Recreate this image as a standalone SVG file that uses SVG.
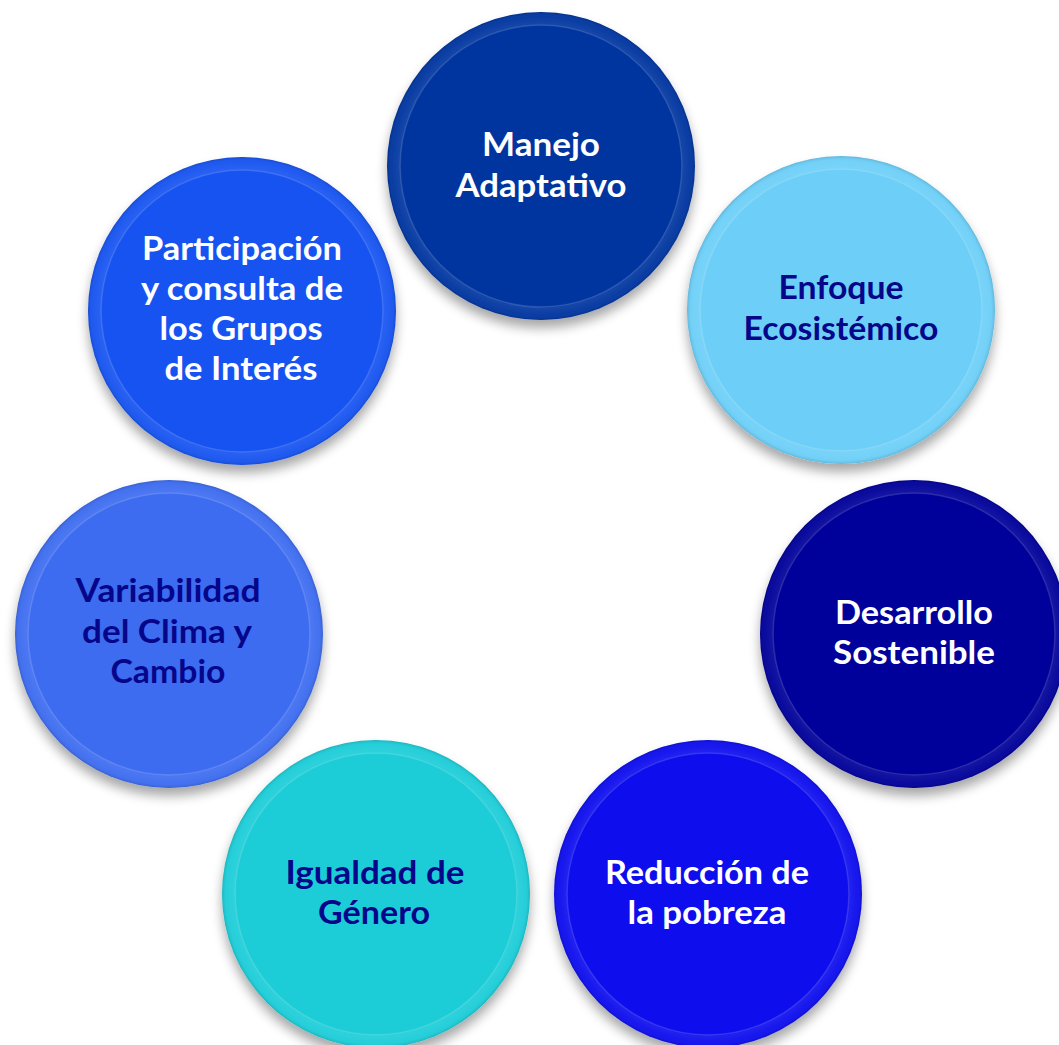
<svg xmlns="http://www.w3.org/2000/svg" width="1059" height="1045" viewBox="0 0 1059 1045">
  <style>
    .lbl { font-family: Lato, "Liberation Sans", sans-serif; font-weight: 700; font-size: 32px; text-anchor: middle; }
    .w { fill: #ffffff; }
    .n { fill: #06068a; }
    .rim { fill: url(#rimGrad); }
    .bevel { fill: none; stroke: #ffffff; stroke-opacity: 0.14; stroke-width: 1.5; }
  </style>
  <defs>
    <filter id="shadow" x="-20%" y="-20%" width="140%" height="145%">
      <feGaussianBlur in="SourceAlpha" stdDeviation="6"/>
      <feOffset dx="0" dy="8" result="b"/>
      <feComponentTransfer><feFuncA type="linear" slope="0.35"/></feComponentTransfer>
      <feMerge><feMergeNode/><feMergeNode in="SourceGraphic"/></feMerge>
    </filter>
    <radialGradient id="rimGrad" cx="0.5" cy="0.5" r="0.5">
      <stop offset="0" stop-color="#ffffff" stop-opacity="0"/>
      <stop offset="0.905" stop-color="#ffffff" stop-opacity="0"/>
      <stop offset="0.925" stop-color="#ffffff" stop-opacity="0.08"/>
      <stop offset="0.97" stop-color="#ffffff" stop-opacity="0.04"/>
      <stop offset="1" stop-color="#000000" stop-opacity="0.12"/>
    </radialGradient>
  </defs>
  <rect width="1059" height="1045" fill="#ffffff"/>
  <g id="connectors"/>

  <g id="node-manejo">
    <circle cx="541" cy="166" r="154" fill="#0336a0" filter="url(#shadow)"/>
    <circle cx="541" cy="166" r="154" class="rim"/>
    <circle cx="541" cy="166" r="141" class="bevel"/>
    <text class="lbl w" x="541" y="156" textLength="118" lengthAdjust="spacingAndGlyphs">Manejo</text>
    <text class="lbl w" x="541" y="197" textLength="171" lengthAdjust="spacingAndGlyphs">Adaptativo</text>
  </g>

  <g id="node-enfoque">
    <circle cx="841" cy="310" r="154" fill="#6dcff8" filter="url(#shadow)"/>
    <circle cx="841" cy="310" r="154" class="rim"/>
    <circle cx="841" cy="310" r="141" class="bevel"/>
    <text class="lbl n" x="841" y="299" textLength="125" lengthAdjust="spacingAndGlyphs">Enfoque</text>
    <text class="lbl n" x="841" y="340" textLength="195" lengthAdjust="spacingAndGlyphs">Ecosistémico</text>
  </g>

  <g id="node-desarrollo">
    <circle cx="914" cy="634" r="154" fill="#04049a" filter="url(#shadow)"/>
    <circle cx="914" cy="634" r="154" class="rim"/>
    <circle cx="914" cy="634" r="141" class="bevel"/>
    <text class="lbl w" x="914" y="624" textLength="158" lengthAdjust="spacingAndGlyphs">Desarrollo</text>
    <text class="lbl w" x="914" y="664" textLength="162" lengthAdjust="spacingAndGlyphs">Sostenible</text>
  </g>

  <g id="node-reduccion">
    <circle cx="708" cy="894" r="154" fill="#0a0aee" filter="url(#shadow)"/>
    <circle cx="708" cy="894" r="154" class="rim"/>
    <circle cx="708" cy="894" r="141" class="bevel"/>
    <text class="lbl w" x="707" y="884" textLength="204" lengthAdjust="spacingAndGlyphs">Reducción de</text>
    <text class="lbl w" x="707" y="924" textLength="159" lengthAdjust="spacingAndGlyphs">la pobreza</text>
  </g>

  <g id="node-igualdad">
    <circle cx="376" cy="894" r="154" fill="#1ccdd8" filter="url(#shadow)"/>
    <circle cx="376" cy="894" r="154" class="rim"/>
    <circle cx="376" cy="894" r="141" class="bevel"/>
    <text class="lbl n" x="375" y="884" textLength="179" lengthAdjust="spacingAndGlyphs">Igualdad de</text>
    <text class="lbl n" x="374" y="924" textLength="112" lengthAdjust="spacingAndGlyphs">Género</text>
  </g>

  <g id="node-variabilidad">
    <circle cx="169" cy="634" r="154" fill="#3c6cf0" filter="url(#shadow)"/>
    <circle cx="169" cy="634" r="154" class="rim"/>
    <circle cx="169" cy="634" r="141" class="bevel"/>
    <text class="lbl n" x="168" y="602" textLength="185" lengthAdjust="spacingAndGlyphs">Variabilidad</text>
    <text class="lbl n" x="167" y="643" textLength="170" lengthAdjust="spacingAndGlyphs">del Clima y</text>
    <text class="lbl n" x="168" y="683" textLength="115" lengthAdjust="spacingAndGlyphs">Cambio</text>
  </g>

  <g id="node-participacion">
    <circle cx="242" cy="311" r="154" fill="#1452f0" filter="url(#shadow)"/>
    <circle cx="242" cy="311" r="154" class="rim"/>
    <circle cx="242" cy="311" r="141" class="bevel"/>
    <text class="lbl w" x="242" y="260" textLength="200" lengthAdjust="spacingAndGlyphs">Participación</text>
    <text class="lbl w" x="242" y="300" textLength="202" lengthAdjust="spacingAndGlyphs">y consulta de</text>
    <text class="lbl w" x="241" y="340" textLength="163" lengthAdjust="spacingAndGlyphs">los Grupos</text>
    <text class="lbl w" x="241" y="380" textLength="153" lengthAdjust="spacingAndGlyphs">de Interés</text>
  </g>
</svg>
